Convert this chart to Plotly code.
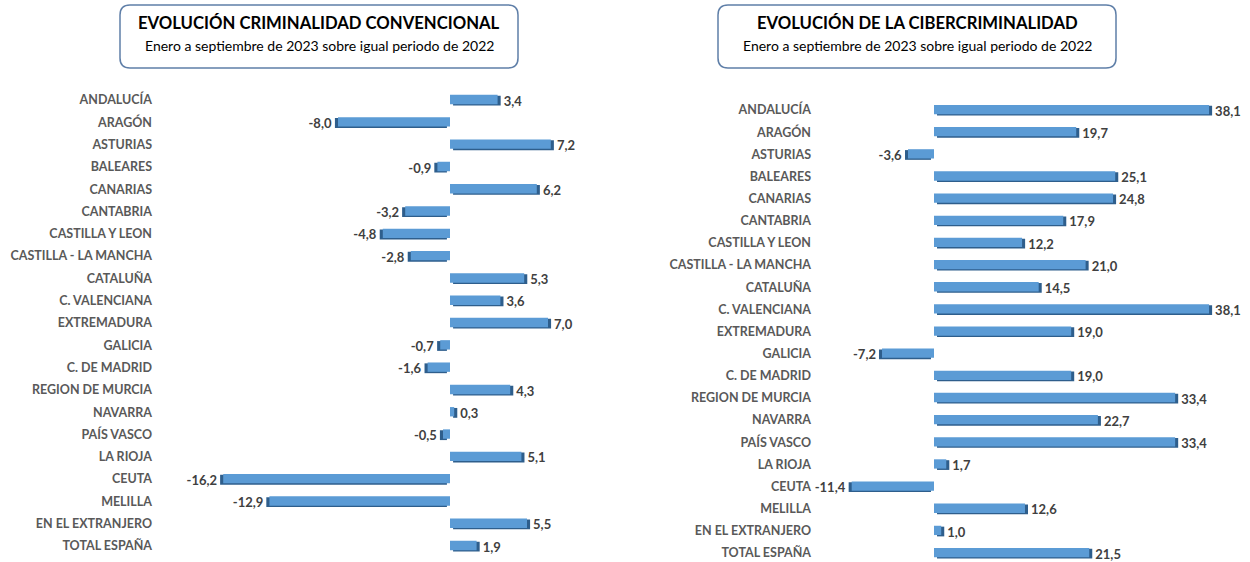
import plotly.graph_objects as go

categories_left = ["ANDALUCÍA", "ARAGÓN", "ASTURIAS", "BALEARES", "CANARIAS", "CANTABRIA",
                   "CASTILLA Y LEON", "CASTILLA - LA MANCHA", "CATALUÑA", "C. VALENCIANA",
                   "EXTREMADURA", "GALICIA", "C. DE MADRID", "REGION DE MURCIA", "NAVARRA",
                   "PAÍS VASCO", "LA RIOJA", "CEUTA", "MELILLA", "EN EL EXTRANJERO", "TOTAL ESPAÑA"]
values_left = [3.4, -8.0, 7.2, -0.9, 6.2, -3.2, -4.8, -2.8, 5.3, 3.6, 7.0, -0.7, -1.6, 4.3,
               0.3, -0.5, 5.1, -16.2, -12.9, 5.5, 1.9]

categories_right = categories_left
values_right = [38.1, 19.7, -3.6, 25.1, 24.8, 17.9, 12.2, 21.0, 14.5, 38.1, 19.0, -7.2, 19.0,
                33.4, 22.7, 33.4, 1.7, -11.4, 12.6, 1.0, 21.5]

title_left = "EVOLUCIÓN CRIMINALIDAD CONVENCIONAL"
title_right = "EVOLUCIÓN DE LA CIBERCRIMINALIDAD"
subtitle = "Enero a septiembre de 2023 sobre igual periodo de 2022"

W, H = 1250, 562
FACE = "#5B9BD5"
SHADE = "#2E5E8C"
FONT = "Lato"

def fmt(v):
    return f"{v:.1f}".replace(".", ",")

def px_x(p):
    return p / W

def px_y(p):
    return 1 - p / H

fig = go.Figure()

def add_panel(cats, vals, xa, ya, depth):
    sign = [1 if v >= 0 else -1 for v in vals]
    fig.add_trace(go.Bar(
        y=cats, x=vals, base=[s * depth for s in sign], orientation="h",
        marker=dict(color=SHADE, line=dict(width=0)),
        width=0.44, offset=-0.19,
        text=[fmt(v) for v in vals], textposition="outside",
        textfont=dict(family=FONT, size=13, color="#404040", weight="bold"),
        constraintext="none", cliponaxis=False,
        xaxis=xa, yaxis=ya, showlegend=False, hoverinfo="skip"))
    fig.add_trace(go.Bar(
        y=cats, x=vals, orientation="h",
        marker=dict(color=FACE, line=dict(width=0)),
        width=0.42, offset=-0.23,
        xaxis=xa, yaxis=ya, showlegend=False, hoverinfo="skip"))

add_panel(categories_left, values_left, "x", "y", 0.22)
add_panel(categories_right, values_right, "x2", "y2", 0.42)

# left panel geometry
lx0, lx1 = 157, 610
lzero, lscale = 450, 14.0
l_row, l_first = 22.3, 100
# right panel geometry
rx0, rx1 = 816, 1245
rzero, rscale = 934, 7.22
r_row, r_first = 22.15, 110

n = len(categories_left)
l_top = l_first - 0.5 * l_row
l_bottom = l_first + (n - 0.5) * l_row
r_top = r_first - 0.5 * r_row
r_extra = (H - (r_first + (n - 1) * r_row)) / r_row

axis_common = dict(showgrid=False, zeroline=False, showline=False, ticks="",
                   fixedrange=True)
tickfont = dict(family=FONT, size=12.5, color="#595959", weight="bold")
fig.update_layout(
    width=W, height=H, margin=dict(l=0, r=0, t=0, b=0),
    paper_bgcolor="white", plot_bgcolor="white", barmode="overlay",
    xaxis=dict(domain=[px_x(lx0), px_x(lx1)], anchor="y", showticklabels=False,
               range=[-(lzero - lx0) / lscale, (lx1 - lzero) / lscale], **axis_common),
    yaxis=dict(domain=[max(0, px_y(l_bottom)), px_y(l_top)], anchor="x", type="category",
               range=[n - 0.5, -0.5], ticklabelstandoff=4, tickfont=tickfont,
               **axis_common),
    xaxis2=dict(domain=[px_x(rx0), px_x(rx1)], anchor="y2", showticklabels=False,
                range=[-(rzero - rx0) / rscale, (rx1 - rzero) / rscale], **axis_common),
    yaxis2=dict(domain=[0, px_y(r_top)], anchor="x2", type="category",
                range=[n - 1 + r_extra, -0.5], ticklabelstandoff=4, tickfont=tickfont,
                **axis_common),
)

def rounded_box(x0, y0, x1, y1, r):
    X = lambda v: px_x(v)
    Y = lambda v: px_y(v)
    path = (f"M {X(x0 + r)},{Y(y0)} L {X(x1 - r)},{Y(y0)} Q {X(x1)},{Y(y0)} {X(x1)},{Y(y0 + r)} "
            f"L {X(x1)},{Y(y1 - r)} Q {X(x1)},{Y(y1)} {X(x1 - r)},{Y(y1)} "
            f"L {X(x0 + r)},{Y(y1)} Q {X(x0)},{Y(y1)} {X(x0)},{Y(y1 - r)} "
            f"L {X(x0)},{Y(y0 + r)} Q {X(x0)},{Y(y0)} {X(x0 + r)},{Y(y0)} Z")
    fig.add_shape(type="path", path=path, xref="paper", yref="paper",
                  line=dict(color="#5F7FA8", width=1.5), fillcolor="rgba(0,0,0,0)")

for (bx0, bx1, t) in [(120, 518, title_left), (718, 1116, title_right)]:
    rounded_box(bx0, 5, bx1, 68, 10)
    cx = (bx0 + bx1) / 2
    fig.add_annotation(x=px_x(cx), y=px_y(23), xref="paper", yref="paper", text=t,
                       showarrow=False, xanchor="center", yanchor="middle",
                       font=dict(family=FONT, size=16.7, color="#000000", weight="bold"))
    fig.add_annotation(x=px_x(cx), y=px_y(45), xref="paper", yref="paper", text=subtitle,
                       showarrow=False, xanchor="center", yanchor="middle",
                       font=dict(family=FONT, size=14, color="#000000"))

fig.write_html("out.html", config={"displayModeBar": False},
               post_script="document.body.style.margin='0';document.body.style.overflow='hidden';")
